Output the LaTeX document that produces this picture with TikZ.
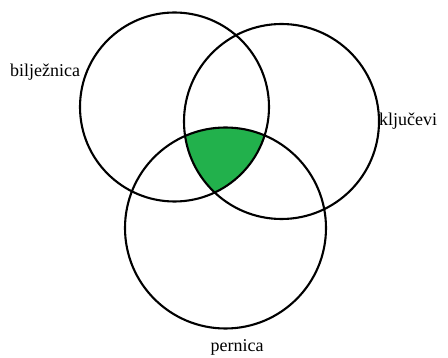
\documentclass[tikz,border=0pt]{standalone}
\usepackage{fontspec}
\setmainfont{Liberation Serif}
\usepackage{tikz}
\usetikzlibrary{positioning}

\definecolor{presjek}{RGB}{34,177,76}

\begin{document}
\begin{tikzpicture}[
  x=1pt, y=-1pt,
  skup/.style={circle, draw, line width=2.1pt, inner sep=0pt},
  oznaka/.style={font=\fontsize{18}{20}\selectfont}
]
  \useasboundingbox (0,0) rectangle (448,358);
  % presjek sva tri skupa
  \begin{scope}
    \clip (174.5,107) circle (94.5);
    \clip (281.5,121.5) circle (97.5);
    \fill[presjek] (225.5,228) circle (100.5);
  \end{scope}
  \node[skup, minimum size=189pt] (bilj) at (174.5,107) {};
  \node[skup, minimum size=195pt] (klju) at (281.5,121.5) {};
  \node[skup, minimum size=201pt] (pern) at (225.5,228) {};
  \node[oznaka] (lbilj) at (45,72) {bilježnica};
  \node[oznaka] (lklju) at (408,121) {ključevi};
  \node[oznaka] (lpern) at (237,347) {pernica};
\end{tikzpicture}
\end{document}
